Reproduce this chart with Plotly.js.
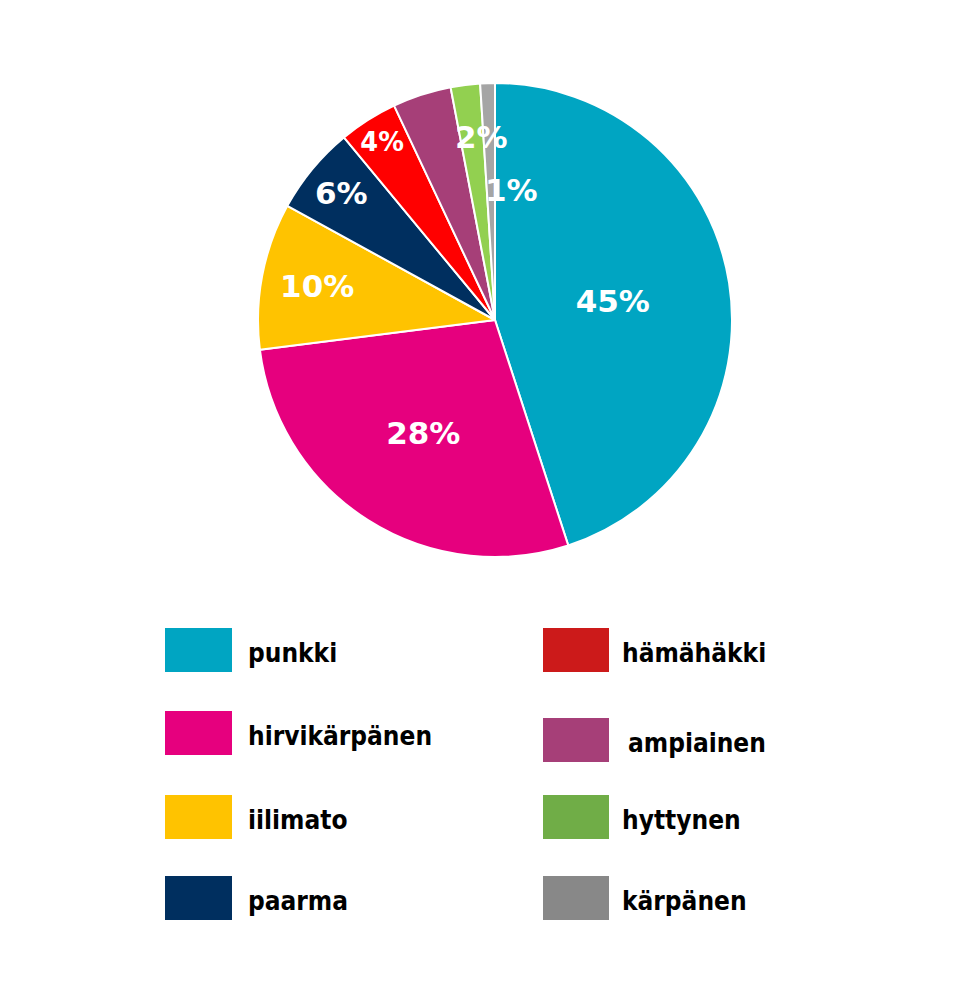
<!DOCTYPE html>
<html>
<head>
<meta charset="utf-8">
<script src="https://cdn.plot.ly/plotly-3.0.1.min.js"></script>
<style>
  body { margin: 0; background: #fff; }
  #graph { width: 980px; height: 988px; }
</style>
</head>
<body>
<div id="graph"></div>
<script>
// data
var labels = ['punkki', 'hirvikärpänen', 'iilimato', 'paarma', 'hämähäkki', 'ampiainen', 'hyttynen', 'kärpänen'];
var values = [45, 28, 10, 6, 4, 4, 2, 1];
var sliceColors = ['#00A5C2', '#E6007E', '#FFC300', '#002F5F', '#FF0000', '#A63F78', '#92D050', '#A5A5A5'];
var legendColors = ['#00A5C2', '#E6007E', '#FFC300', '#002F5F', '#CC1A1A', '#A63F78', '#70AD47', '#888888'];
// which labels the pie writes itself (ampiainen has none, the two thin ones are set beside)
var showText = [true, true, true, true, true, false, false, false];

var W = 980, H = 988;
function px(x) { return x / W; }
function py(y) { return 1 - y / H; }

var pieFont = { family: '"DejaVu Sans", sans-serif', size: 31, color: '#fff', weight: 'bold' };
var legFont = { family: '"Liberation Sans Narrow", "DejaVu Sans Condensed", sans-serif', size: 26, color: '#000', weight: 'bold' };

var texts = values.map(function(v, i) { return showText[i] ? v + '%' : ''; });

var trace = {
  type: 'pie',
  labels: labels,
  values: values,
  text: texts,
  textinfo: 'text',
  textposition: 'inside',
  insidetextorientation: 'horizontal',
  insidetextfont: pieFont,
  sort: false,
  direction: 'clockwise',
  rotation: 0,
  marker: { colors: sliceColors, line: { color: '#fff', width: 2 } },
  domain: { x: [px(258), px(732)], y: [py(557), py(83)] },
  hoverinfo: 'label+percent',
  showlegend: false
};

// legend drawn as boxes + text, two columns of four
var shapes = [], annotations = [];
var boxX = [[165, 232], [543, 609]];
var textX = [[246, 246, 246, 246], [620, 626, 620, 620]];
var rowTop = [[628, 711, 795, 876], [628, 718, 795, 876]];
labels.forEach(function(lab, i) {
  var col = i < 4 ? 0 : 1, row = i % 4;
  var y0 = rowTop[col][row];
  shapes.push({
    type: 'rect', xref: 'paper', yref: 'paper',
    x0: px(boxX[col][0]), x1: px(boxX[col][1]),
    y0: py(y0 + 44), y1: py(y0),
    fillcolor: legendColors[i], line: { width: 0 }
  });
  annotations.push({
    xref: 'paper', yref: 'paper', x: px(textX[col][row]), y: py(y0 + 25),
    xanchor: 'left', yanchor: 'middle', showarrow: false,
    text: lab, font: legFont
  });
});

// labels for the two thinnest slices, set over the edge like the original
annotations.push({ xref: 'paper', yref: 'paper', x: px(481), y: py(117), showarrow: false,
  text: values[6] + '%', font: pieFont });
annotations.push({ xref: 'paper', yref: 'paper', x: px(511), y: py(170), showarrow: false,
  text: values[7] + '%', font: pieFont });

var layout = {
  width: W,
  height: H,
  margin: { l: 0, r: 0, t: 0, b: 0 },
  paper_bgcolor: '#fff',
  shapes: shapes,
  annotations: annotations,
  showlegend: false
};

Plotly.newPlot('graph', [trace], layout, { displayModeBar: false, staticPlot: true });
</script>
</body>
</html>
